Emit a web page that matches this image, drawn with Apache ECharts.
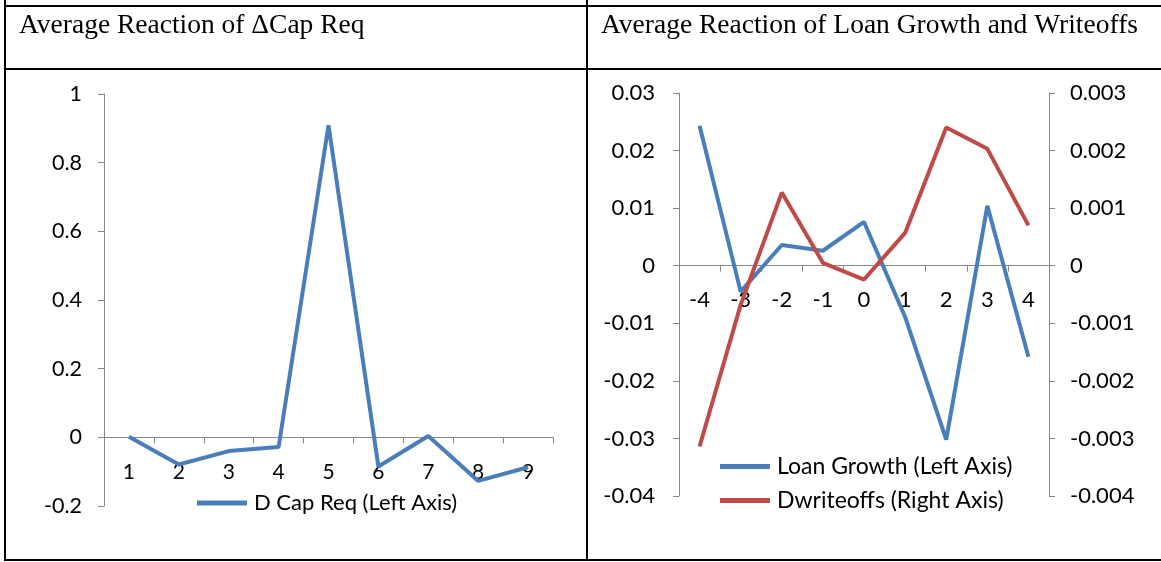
<!DOCTYPE html>
<html>
<head>
<meta charset="utf-8">
<script src="https://cdn.jsdelivr.net/npm/echarts@6/dist/echarts.min.js"></script>
<style>
html,body{margin:0;padding:0;background:#fff;}
#chart{width:1161px;height:562px;}
</style>
</head>
<body>
<div id="chart"></div>
<script>
// ---- data ----
var capCategories = ['1','2','3','4','5','6','7','8','9'];
var capReq = [0.002, -0.079, -0.040, -0.028, 0.909, -0.085, 0.004, -0.127, -0.087];
var capTicks = {min: -0.2, max: 1, interval: 0.2};

var loanCategories = ['-4','-3','-2','-1','0','1','2','3','4'];
var loanGrowth = [0.0243, -0.0045, 0.0036, 0.0026, 0.0076, -0.0089, -0.0302, 0.0104, -0.0158];
var dWriteoffs = [-0.00314, -0.00068, 0.00127, 0.00005, -0.00024, 0.00057, 0.00240, 0.00203, 0.00070];
var loanTicks = {min: -0.04, max: 0.03, interval: 0.01};
var writeoffTicks = {min: -0.004, max: 0.003, interval: 0.001};

var titles = ['Average Reaction of \u0394Cap Req', 'Average Reaction of Loan Growth and Writeoffs'];
var seriesNames = ['D Cap Req (Left Axis)', 'Loan Growth (Left Axis)', 'Dwriteoffs (Right Axis)'];

// ---- layout / styles ----
var grid1 = {left: 104, top: 94, width: 449, height: 412};
var grid2 = {left: 679, top: 93, width: 370, height: 403};
var AX = '#868686';
function lbl(size){ return {color: '#000', fontFamily: 'Lato', fontSize: size}; }
function fmt(v){ return String(+v.toFixed(4)); }
// distance from the grid bottom up to the value 0 on the given value scale
function zeroOffset(t, g){ return -g.height * (0 - t.min) / (t.max - t.min); }
function valAxis(t, gridIndex, pos, margin, size){
  return {
    type: 'value', gridIndex: gridIndex, position: pos,
    min: t.min, max: t.max, interval: t.interval,
    axisLine: {show: true, lineStyle: {color: AX, width: 1}},
    axisTick: {show: true, length: 6, lineStyle: {color: AX}},
    splitLine: {show: false},
    axisLabel: Object.assign({margin: margin, formatter: fmt}, lbl(size))
  };
}
function catAxis(cats, gridIndex, margin, offset, size){
  return {
    type: 'category', gridIndex: gridIndex, data: cats, boundaryGap: true,
    position: 'bottom', offset: offset,
    axisLine: {show: true, onZero: false, lineStyle: {color: AX, width: 1}},
    axisTick: {show: true, length: 6, interval: 0, lineStyle: {color: AX}},
    axisLabel: Object.assign({margin: margin, interval: 0}, lbl(size)),
    splitLine: {show: false}
  };
}
var border = {stroke: '#000', lineWidth: 2};
var titleStyle = {fontFamily: 'Liberation Serif', fontSize: 27.5, fontWeight: 'normal', color: '#000'};

var chart = echarts.init(document.getElementById('chart'), null, {renderer: 'canvas'});
chart.setOption({
  backgroundColor: '#fff',
  animation: false,
  title: [
    {text: titles[0], left: 19, top: 12, padding: 0, textStyle: titleStyle},
    {text: titles[1], left: 601, top: 12, padding: 0, textStyle: titleStyle}
  ],
  grid: [grid1, grid2],
  xAxis: [
    catAxis(capCategories, 0, 24, zeroOffset(capTicks, grid1), 21),
    catAxis(loanCategories, 1, 23, zeroOffset(loanTicks, grid2), 22)
  ],
  yAxis: [
    valAxis(capTicks, 0, 'left', 22, 21.5),
    valAxis(loanTicks, 1, 'left', 24, 22),
    valAxis(writeoffTicks, 1, 'right', 21, 22)
  ],
  legend: [
    {data: [seriesNames[0]], left: 192, top: 487, orient: 'horizontal', icon: 'rect',
     itemWidth: 50, itemHeight: 5, itemGap: 10, textStyle: {color: '#000', fontFamily: 'Lato', fontSize: 22, padding: [0,0,0,2]}},
    {data: [seriesNames[1], seriesNames[2]], left: 715, top: 450, orient: 'vertical', icon: 'rect',
     itemWidth: 50, itemHeight: 5, itemGap: 11, textStyle: {color: '#000', fontFamily: 'Lato', fontSize: 23, padding: [0,0,0,2]}}
  ],
  series: [
    {name: seriesNames[0], type: 'line', xAxisIndex: 0, yAxisIndex: 0, data: capReq,
     symbol: 'none', lineStyle: {width: 4, color: '#4a7ebb'}, itemStyle: {color: '#4a7ebb'}},
    {name: seriesNames[1], type: 'line', xAxisIndex: 1, yAxisIndex: 1, data: loanGrowth,
     symbol: 'none', lineStyle: {width: 4, color: '#4a7ebb'}, itemStyle: {color: '#4a7ebb'}},
    {name: seriesNames[2], type: 'line', xAxisIndex: 1, yAxisIndex: 2, data: dWriteoffs,
     symbol: 'none', lineStyle: {width: 4, color: '#be4b48'}, itemStyle: {color: '#be4b48'}}
  ],
  graphic: [
    {type: 'line', shape: {x1: 4, y1: 6, x2: 1161, y2: 6}, style: border, silent: true},
    {type: 'line', shape: {x1: 4, y1: 69, x2: 1161, y2: 69}, style: border, silent: true},
    {type: 'line', shape: {x1: 4, y1: 560, x2: 1161, y2: 560}, style: border, silent: true},
    {type: 'line', shape: {x1: 5, y1: 0, x2: 5, y2: 561}, style: border, silent: true},
    {type: 'line', shape: {x1: 587, y1: 0, x2: 587, y2: 561}, style: border, silent: true}
  ]
});
</script>
</body>
</html>
